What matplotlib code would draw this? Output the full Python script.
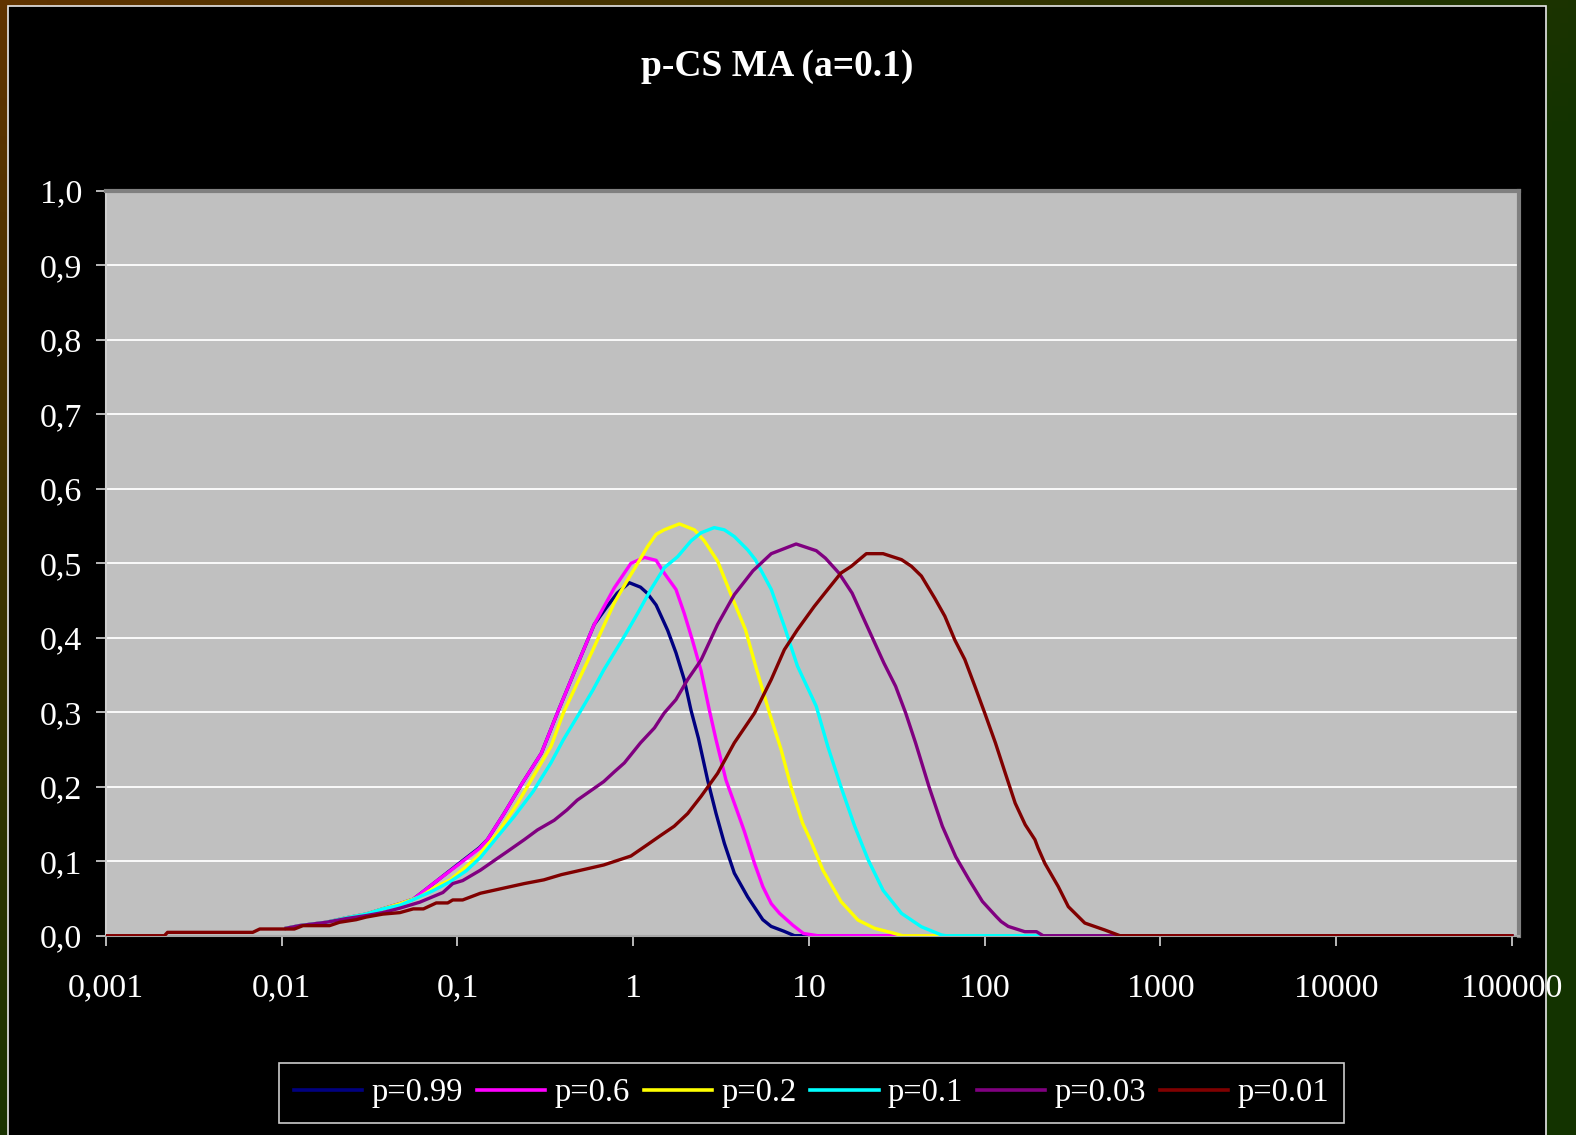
import numpy as np
import matplotlib
matplotlib.use("Agg")
import matplotlib.pyplot as plt
from matplotlib.patches import Rectangle
from matplotlib.ticker import NullLocator, FixedLocator, FixedFormatter

plt.rcParams['font.family'] = ['Liberation Serif', 'DejaVu Serif']

# ---------------- data ----------------
labels = ["p=0.99", "p=0.6", "p=0.2", "p=0.1", "p=0.03", "p=0.01"]
colors = ["#000080", "#FF00FF", "#FFFF00", "#00FFFF", "#800080", "#800000"]

x_p099 = [0.0106, 0.0126, 0.0179, 0.0233, 0.0302, 0.0376, 0.047, 0.056, 0.0757, 0.102, 0.133, 0.148,
          0.184, 0.234, 0.30, 0.37, 0.46, 0.60, 0.70, 0.81, 0.95, 1.1, 1.2, 1.35, 1.57, 1.75, 1.95,
          2.13, 2.35, 2.65, 2.96, 3.30, 3.76, 4.48, 5.46, 6.09, 7.2, 8.27, 1e5]
y_p099 = [0.010, 0.0135, 0.018, 0.024, 0.029, 0.036, 0.043, 0.049, 0.073, 0.097, 0.118, 0.129,
          0.164, 0.205, 0.245, 0.299, 0.353, 0.418, 0.44, 0.46, 0.474, 0.468, 0.46, 0.444, 0.41, 0.38, 0.344,
          0.303, 0.265, 0.209, 0.164, 0.124, 0.084, 0.052, 0.0215, 0.0125, 0.006, 0.0, 0.0]

x_p06 = [0.0106, 0.0126, 0.0179, 0.0233, 0.0302, 0.0376, 0.047, 0.056, 0.0757, 0.102, 0.133, 0.148,
         0.184, 0.234, 0.30, 0.37, 0.46, 0.60, 0.78, 0.97, 1.16, 1.35, 1.5, 1.75, 1.95, 2.17, 2.43,
         2.71, 2.96, 3.37, 3.76, 4.29, 4.9, 5.46, 6.1, 6.8, 8.1, 9.3, 11.2, 1e5]
y_p06 = [0.010, 0.0135, 0.018, 0.024, 0.029, 0.036, 0.043, 0.049, 0.073, 0.096, 0.117, 0.129,
         0.164, 0.205, 0.245, 0.299, 0.353, 0.418, 0.467, 0.50, 0.508, 0.504, 0.487, 0.465, 0.433, 0.397, 0.356,
         0.303, 0.263, 0.209, 0.178, 0.140, 0.097, 0.066, 0.043, 0.030, 0.014, 0.003, 0.0, 0.0]

x_p02 = [0.0106, 0.0126, 0.0179, 0.0233, 0.0302, 0.0376, 0.047, 0.061, 0.0757, 0.091, 0.13, 0.169,
         0.22, 0.27, 0.34, 0.40, 0.48, 0.59, 0.65, 0.78, 0.93, 1.06, 1.21, 1.35, 1.5, 1.83, 2.23,
         2.54, 3.02, 3.6, 4.35, 5.0, 5.96, 6.94, 7.9, 9.2, 10.3, 12.0, 15.2, 19.0, 23.6, 30.7, 34.0, 1e5]
y_p02 = [0.010, 0.0135, 0.018, 0.024, 0.029, 0.036, 0.043, 0.052, 0.066, 0.075, 0.106, 0.138,
         0.178, 0.214, 0.254, 0.299, 0.339, 0.384, 0.406, 0.447, 0.478, 0.50, 0.523, 0.539, 0.545, 0.553, 0.545,
         0.53, 0.503, 0.458, 0.411, 0.36, 0.299, 0.25, 0.2, 0.151, 0.126, 0.088, 0.046, 0.021, 0.01, 0.003, 0.0, 0.0]

x_p01 = [0.0106, 0.0126, 0.0179, 0.0233, 0.0302, 0.0376, 0.047, 0.058, 0.072, 0.09, 0.112, 0.135,
         0.169, 0.21, 0.27, 0.34, 0.40, 0.48, 0.59, 0.68, 0.89, 1.06, 1.26, 1.5, 1.79, 2.13, 2.43,
         2.89, 3.3, 3.76, 4.48, 4.95, 6.1, 7.25, 8.6, 11.0, 12.8, 15.2, 18.2, 21.7, 26.4, 33.6, 43.6,
         56.7, 60.0, 1e5]
y_p01 = [0.010, 0.0135, 0.018, 0.024, 0.029, 0.036, 0.041, 0.05, 0.06, 0.072, 0.087, 0.105,
         0.133, 0.16, 0.194, 0.232, 0.263, 0.294, 0.33, 0.357, 0.402, 0.433, 0.465, 0.494, 0.509, 0.53, 0.541,
         0.548, 0.545, 0.536, 0.518, 0.505, 0.465, 0.415, 0.362, 0.308, 0.254, 0.2, 0.147, 0.102, 0.061, 0.03, 0.012,
         0.001, 0.0, 0.0]

x_p003 = [0.0106, 0.0126, 0.0179, 0.0233, 0.0302, 0.0376, 0.047, 0.061, 0.0826, 0.094, 0.107, 0.135,
          0.169, 0.192, 0.24, 0.285, 0.355, 0.42, 0.48, 0.6, 0.68, 0.78, 0.89, 1.1, 1.32, 1.5, 1.75,
          2.04, 2.43, 3.02, 3.76, 4.8, 6.1, 8.45, 11.0, 12.4, 14.8, 17.6, 21.0, 26.7, 31.1, 35.5, 40.4,
          48.2, 57.4, 68.4, 81.5, 97.0, 116.0, 124.0, 136.0, 169.0, 197.0, 215.0, 1e5]
y_p003 = [0.010, 0.0135, 0.018, 0.023, 0.027, 0.031, 0.037, 0.045, 0.058, 0.07, 0.074, 0.088,
          0.104, 0.113, 0.129, 0.142, 0.155, 0.169, 0.182, 0.198, 0.207, 0.22, 0.232, 0.259, 0.279, 0.299, 0.317,
          0.344, 0.37, 0.418, 0.458, 0.49, 0.513, 0.526, 0.517, 0.507, 0.487, 0.46, 0.42, 0.366, 0.335, 0.299, 0.259,
          0.2, 0.147, 0.106, 0.075, 0.046, 0.026, 0.019, 0.0125, 0.0054, 0.0054, 0.0, 0.0]

x_p001 = [0.001, 0.00215, 0.00224, 0.00684, 0.0075, 0.0118, 0.0132, 0.0187, 0.0213, 0.0265, 0.0302,
          0.0376, 0.047, 0.056, 0.064, 0.0757, 0.088, 0.094, 0.107, 0.135, 0.184, 0.24, 0.31, 0.39, 0.55,
          0.68, 0.97, 1.2, 1.44, 1.71, 2.04, 2.43, 3.02, 3.76, 4.9, 6.1, 7.24, 8.6, 10.7, 12.3, 15.2,
          17.4, 21.2, 26.4, 33.6, 38.3, 43.6, 52.0, 59.3, 67.6, 77.0, 87.9, 100.0, 115.0, 131.0, 149.0,
          170.0, 193.0, 201.0, 220.0, 262.0, 299.0, 371.0, 483.0, 588.0, 1e5]
y_p001 = [0.0, 0.0, 0.0045, 0.0045, 0.009, 0.009, 0.0135, 0.0135, 0.018, 0.0215, 0.025,
          0.029, 0.031, 0.036, 0.036, 0.044, 0.044, 0.048, 0.048, 0.057, 0.064, 0.07, 0.075, 0.082, 0.09,
          0.095, 0.107, 0.122, 0.135, 0.147, 0.164, 0.187, 0.218, 0.259, 0.299, 0.344, 0.384, 0.411, 0.442, 0.46, 0.487,
          0.496, 0.513, 0.513, 0.505, 0.496, 0.483, 0.453, 0.429, 0.397, 0.371, 0.335, 0.299, 0.259, 0.218, 0.178,
          0.149, 0.129, 0.118, 0.097, 0.066, 0.039, 0.017, 0.0076, 0.0, 0.0]

series_x = [x_p099, x_p06, x_p02, x_p01, x_p003, x_p001]
series_y = [y_p099, y_p06, y_p02, y_p01, y_p003, y_p001]

xtick_vals = [0.001, 0.01, 0.1, 1, 10, 100, 1000, 10000, 100000]
xtick_labels = ["0,001", "0,01", "0,1", "1", "10", "100", "1000", "10000", "100000"]
ytick_vals = [0.0, 0.1, 0.2, 0.3, 0.4, 0.5, 0.6, 0.7, 0.8, 0.9, 1.0]
ytick_labels = ["0,0", "0,1", "0,2", "0,3", "0,4", "0,5", "0,6", "0,7", "0,8", "0,9", "1,0"]
title = "p-CS MA (a=0.1)"

# ---------------- figure ----------------
W, H = 1576, 1135
fig = plt.figure(figsize=(W / 100, H / 100), dpi=100)

# gradient border background
bg = fig.add_axes([0, 0, 1, 1])
bg.set_axis_off()
xx, yy = np.meshgrid(np.linspace(0, 1, 200), np.linspace(0, 1, 150))
t = np.clip((xx + yy) * 0.9, 0, 1)[..., None]
c0 = np.array([96, 51, 0]) / 255.0
c1 = np.array([19, 51, 0]) / 255.0
img = c0 * (1 - t) + c1 * t
bg.imshow(img, extent=[0, 1, 0, 1], origin='upper', aspect='auto', zorder=0)
bg.set_xlim(0, 1)
bg.set_ylim(0, 1)
bg.add_patch(Rectangle((8 / W, -0.01), (1546 - 8) / W, 1.01 - 5.7 / H,
                       facecolor='black', edgecolor='#E8E8E8', linewidth=1.2, zorder=1))

ax = fig.add_axes([106 / W, 1 - 935.7 / H, (1519 - 106) / W, (935.7 - 191) / H])
ax.set_facecolor('#C0C0C0')
ax.set_xscale('log')

handles = []
for xs, ys, c, lab in zip(series_x, series_y, colors, labels):
    h, = ax.plot(xs, ys, color=c, linewidth=2.4, label=lab, solid_joinstyle='round', zorder=3)
    handles.append(h)

ax.set_xlim(0.001, 10 ** 5.04)
ax.set_ylim(0, 1.0)
ax.xaxis.set_major_locator(FixedLocator(xtick_vals))
ax.xaxis.set_major_formatter(FixedFormatter(xtick_labels))
ax.xaxis.set_minor_locator(NullLocator())
ax.set_yticks(ytick_vals)
ax.set_yticklabels(ytick_labels)
ax.yaxis.grid(True, color='white', linewidth=1.3, zorder=1)
ax.xaxis.grid(False)
ax.set_axisbelow(True)

ax.tick_params(axis='both', which='major', direction='out', length=7, width=1.2,
               color='#D8D8D8', labelcolor='white', labelsize=24.5)
ax.tick_params(axis='x', pad=20)
ax.tick_params(axis='y', pad=10)

ax.spines['left'].set_color('#D0D0D0')
ax.spines['left'].set_linewidth(1.5)
ax.spines['bottom'].set_color('#A8A8A8')
ax.spines['bottom'].set_linewidth(1.5)
ax.spines['top'].set_color('#808080')
ax.spines['top'].set_linewidth(3)
ax.spines['right'].set_color('#808080')
ax.spines['right'].set_linewidth(3)

fig.text(777 / W, 1 - 66 / H, title, ha='center', va='center', color='white',
         fontsize=27, fontweight='bold')

leg = fig.legend(handles, labels, loc='center', bbox_to_anchor=(811.5 / W, 1 - 1093 / H),
                 ncol=6, frameon=True, facecolor='black', edgecolor='white', fancybox=False,
                 fontsize=23.5, handlelength=2.1, handletextpad=0.28, columnspacing=0.42,
                 borderpad=0.45, labelcolor='white')
leg.get_frame().set_linewidth(1.2)
for lh in leg.legend_handles:
    lh.set_linewidth(2.6)

fig.savefig('out.png', dpi=100, facecolor='black')
